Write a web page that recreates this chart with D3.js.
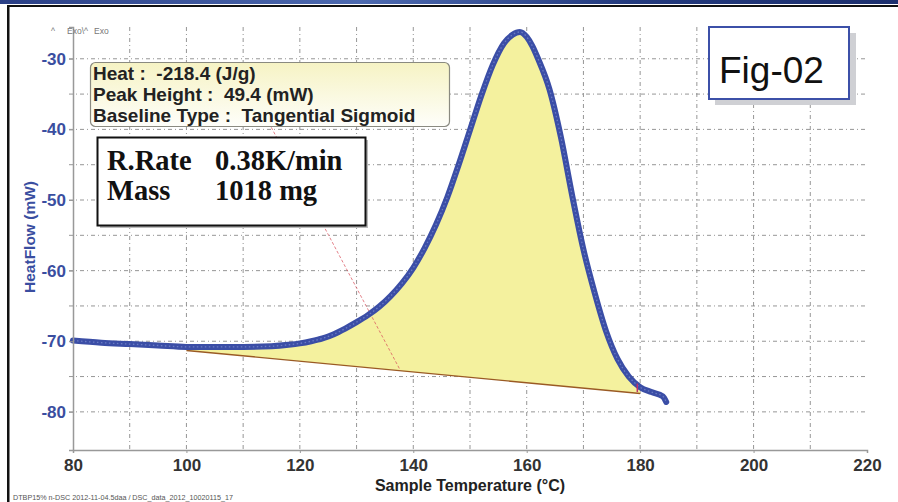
<!DOCTYPE html>
<html><head><meta charset="utf-8">
<script src="https://cdn.jsdelivr.net/npm/d3@7"></script>
<style>
html,body{margin:0;padding:0;background:#fff;}
svg{display:block;}
</style></head>
<body>
<svg id="chart" width="898" height="502"></svg>
<script>
// ---- data ----
const temps = [80,85,90,95,100,105,110,115,118,120,122,124,126,128,130,132,134,136,138,140,142,144,146,148,150,152,154,156,157.5,158.8,160,161,162,164,166,168,170,172,174,176,178,180,182,184,184.6];
const heatFlow = [-69.9,-70.2,-70.4,-70.6,-70.8,-70.8,-70.8,-70.7,-70.5,-70.3,-70.0,-69.6,-69.0,-68.2,-67.3,-66.3,-65.1,-63.6,-61.8,-59.6,-56.8,-53.5,-49.6,-45.0,-40.1,-35.2,-30.9,-27.8,-26.6,-26.2,-26.9,-28.2,-30.0,-34.3,-41.0,-49.3,-57.0,-63.2,-68.6,-72.5,-75.0,-76.5,-77.2,-77.8,-78.6];
const baselineTemps = [100, 180];
const baselineValues = [-71.3, -77.4];
const tangentTemps = [110, 137.7];
const tangentValues = [-32.2, -74.1];
const xTickValues = [80,100,120,140,160,180,200,220];
const xTickLabels = ["80","100","120","140","160","180","200","220"];
const yTickValues = [-80,-70,-60,-50,-40,-30];
const yTickLabels = ["-80","-70","-60","-50","-40","-30"];
const xGrid = [90,100,110,120,130,140,150,160,170,180,190,200,210];
const yGrid = [-80,-75,-70,-65,-60,-55,-50,-45,-40,-35,-30];
const infoLines = ["Heat :  -218.4 (J/g)", "Peak Height :  49.4 (mW)", "Baseline Type :  Tangential Sigmoid"];
const sampleLabels = ["R.Rate", "Mass"];
const sampleValues = ["0.38K/min", "1018 mg"];
const figLabel = "Fig-02";
const xTitle = "Sample Temperature (°C)";
const yTitle = "HeatFlow (mW)";
const exoParts = ["^", "Exo\\^", "Exo"];
const footer = "DTBP15% n-DSC 2012-11-04.5daa / DSC_data_2012_10020115_17";

const svg = d3.select("#chart");
const defs = svg.append("defs");
const g1 = defs.append("linearGradient").attr("id","infoGrad").attr("x1",0).attr("y1",0).attr("x2",0).attr("y2",1);
g1.append("stop").attr("offset","0%").attr("stop-color","#f6f3c4");
g1.append("stop").attr("offset","100%").attr("stop-color","#fefefa");
const g2 = defs.append("linearGradient").attr("id","topGrad").attr("x1",0).attr("y1",0).attr("x2",1).attr("y2",0);
g2.append("stop").attr("offset","0%").attr("stop-color","#2a3f86");
g2.append("stop").attr("offset","40%").attr("stop-color","#4d6ab0");
g2.append("stop").attr("offset","70%").attr("stop-color","#233a7e");
g2.append("stop").attr("offset","100%").attr("stop-color","#1c2f6e");

// window frame
svg.append("rect").attr("x",0).attr("y",0).attr("width",898).attr("height",4).attr("fill","url(#topGrad)");
svg.append("rect").attr("x",7).attr("y",5).attr("width",891).attr("height",2).attr("fill","#111");
svg.append("rect").attr("x",7).attr("y",5).attr("width",2.5).attr("height",497).attr("fill","#111");

const x = d3.scaleLinear().domain([80,220]).range([73,867]);
const y = d3.scaleLinear().domain([-85.4,-25.5]).range([450,27]);

// grid
const grid = svg.append("g");
grid.selectAll(".vg").data(xGrid).join("line")
  .attr("x1",d=>x(d)).attr("x2",d=>x(d)).attr("y1",27).attr("y2",450)
  .attr("stroke","#8a8a8a").attr("stroke-width",0.9).attr("stroke-dasharray","4,3,1,3");
grid.selectAll(".hg").data(yGrid).join("line")
  .attr("x1",69).attr("x2",867).attr("y1",d=>y(d)).attr("y2",d=>y(d))
  .attr("stroke","#8a8a8a").attr("stroke-width",0.9).attr("stroke-dasharray","4,3,1,3");

// fill area between curve and baseline
const pts = temps.map((t,i)=>({t, v: heatFlow[i]}));
const bl = d3.scaleLinear().domain(baselineTemps).range(baselineValues);
const fillPts = pts.filter(p=>p.t>=baselineTemps[0] && p.t<=baselineTemps[1]);
const area = d3.area().x(d=>x(d.t)).y0(d=>y(bl(d.t))).y1(d=>y(d.v)).curve(d3.curveMonotoneX);
svg.append("path").datum(fillPts).attr("d",area).attr("fill","#f4f19e");

// tangent line
svg.append("path").datum(tangentTemps.map((t,i)=>({t,v:tangentValues[i]})))
  .attr("d", d3.line().x(d=>x(d.t)).y(d=>y(d.v)))
  .attr("stroke","#d8505a").attr("stroke-width",0.9).attr("stroke-dasharray","3,2").attr("fill","none").attr("opacity",0.8);

// baseline
svg.append("path").datum(baselineTemps.map((t,i)=>({t,v:baselineValues[i]})))
  .attr("d", d3.line().x(d=>x(d.t)).y(d=>y(d.v)))
  .attr("stroke","#9a5a24").attr("stroke-width",1.4).attr("fill","none");

// data curve
const line = d3.line().x(d=>x(d.t)).y(d=>y(d.v)).curve(d3.curveMonotoneX);
svg.append("path").datum(pts).attr("d",line).attr("fill","none")
  .attr("stroke","#3b4ea6").attr("stroke-width",6).attr("stroke-linejoin","round").attr("stroke-linecap","round");
svg.append("path").datum(pts).attr("d",line).attr("fill","none")
  .attr("stroke","#7f8fd2").attr("stroke-width",1.3).attr("stroke-dasharray","1.5,2.5").attr("opacity",0.7);

// end marker
svg.append("line").attr("x1",x(179.5)).attr("x2",x(179.5)).attr("y1",y(-76.0)).attr("y2",y(-77.2))
  .attr("stroke","#c0306a").attr("stroke-width",1.5);

// axes
const xAxis = d3.axisBottom(x).tickValues(xTickValues).tickFormat((d,i)=>xTickLabels[i]).tickSize(3).tickPadding(6);
const xg = svg.append("g").attr("transform","translate(0,450)").call(xAxis);
xg.select(".domain").attr("stroke","#999").attr("stroke-width",1.5);
xg.selectAll(".tick line").attr("stroke","#999");
xg.selectAll("text").attr("font-family","Arial, 'Liberation Sans', sans-serif").attr("font-size",17).attr("font-weight","bold").attr("fill","#333");

const yAxis = d3.axisLeft(y).tickValues(yTickValues).tickFormat((d,i)=>yTickLabels[i]).tickSize(4).tickPadding(3);
const yg = svg.append("g").attr("transform","translate(73,0)").call(yAxis);
yg.select(".domain").attr("stroke","#999").attr("stroke-width",1.5);
yg.selectAll(".tick line").attr("stroke","#999");
yg.selectAll("text").attr("font-family","Arial, 'Liberation Sans', sans-serif").attr("font-size",17).attr("font-weight","bold").attr("fill","#3a4ea0");

svg.append("text").attr("x",470).attr("y",491).attr("text-anchor","middle")
  .attr("font-family","Arial, 'Liberation Sans', sans-serif").attr("font-size",16).attr("font-weight","bold").attr("fill","#222").text(xTitle);
svg.append("text").attr("transform","translate(35,237) rotate(-90)").attr("text-anchor","middle")
  .attr("font-family","Arial, 'Liberation Sans', sans-serif").attr("font-size",15.5).attr("font-weight","bold").attr("fill","#3a4ea0").text(yTitle);

// exo marker text
svg.selectAll(".exo").data(exoParts).join("text")
  .attr("x",(d,i)=>[51,67,94][i]).attr("y",34)
  .attr("font-family","Arial, sans-serif").attr("font-size",8.5).attr("fill","#777").text(d=>d);

// info box
svg.append("rect").attr("x",90.5).attr("y",62.5).attr("width",359).attr("height",64).attr("rx",5)
  .attr("fill","url(#infoGrad)").attr("stroke","#8a8a80").attr("stroke-width",1.2);
svg.selectAll(".info").data(infoLines).join("text")
  .attr("x",93).attr("y",(d,i)=>80+i*21)
  .attr("font-family","Arial, 'Liberation Sans', sans-serif").attr("font-size",19).attr("font-weight","bold").attr("fill","#222")
  .style("white-space","pre").text(d=>d);

// sample box
svg.append("rect").attr("x",100).attr("y",140).attr("width",268).attr("height",88).attr("fill","#bbb");
svg.append("rect").attr("x",97.5).attr("y",137.5).attr("width",268).attr("height",88)
  .attr("fill","#fff").attr("stroke","#111").attr("stroke-width",2);
svg.selectAll(".sl").data(sampleLabels).join("text")
  .attr("x",107).attr("y",(d,i)=>170+i*30)
  .attr("font-family","'Liberation Serif', 'Times New Roman', serif").attr("font-size",28.5).attr("font-weight","bold").attr("fill","#111").text(d=>d);
svg.selectAll(".sv").data(sampleValues).join("text")
  .attr("x",215).attr("y",(d,i)=>170+i*30)
  .attr("font-family","'Liberation Serif', 'Times New Roman', serif").attr("font-size",28.5).attr("font-weight","bold").attr("fill","#111").text(d=>d);

// Fig box
svg.append("rect").attr("x",715).attr("y",33).attr("width",141).attr("height",72).attr("fill","#cfd0d4");
svg.append("rect").attr("x",709).attr("y",27).attr("width",140).attr("height",72)
  .attr("fill","#fff").attr("stroke","#3c50a8").attr("stroke-width",2);
svg.append("text").attr("x",719).attr("y",83).attr("font-family","Arial, 'Liberation Sans', sans-serif")
  .attr("font-size",37).attr("fill","#111").text(figLabel);

// footer
svg.append("text").attr("x",13).attr("y",500).attr("font-family","Arial, 'Liberation Sans', sans-serif")
  .attr("font-size",7.5).attr("fill","#555").attr("textLength",220).attr("lengthAdjust","spacingAndGlyphs").text(footer);
</script>
</body></html>
